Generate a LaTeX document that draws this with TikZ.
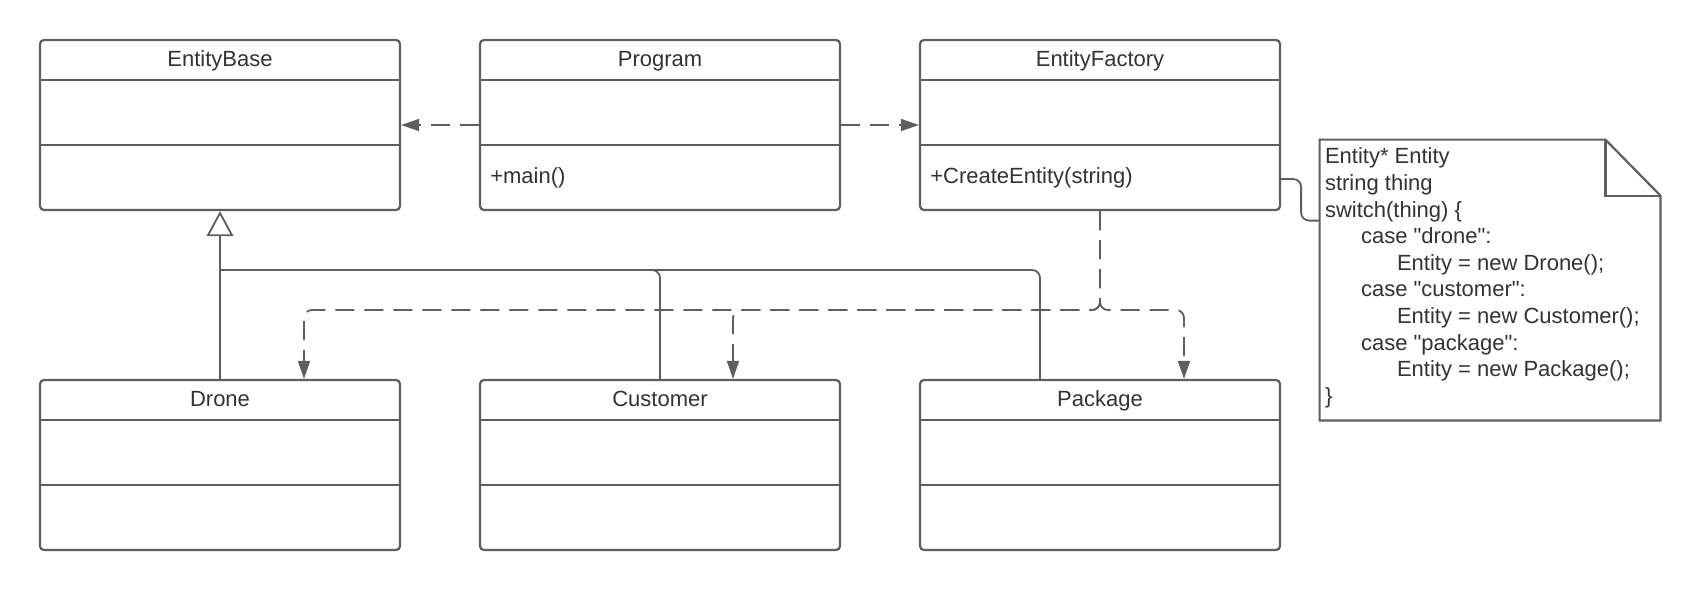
\documentclass[tikz,border=0pt]{standalone}
\usepackage{fontspec}
\setmainfont{Liberation Sans}[Ligatures=TeXOff]
\usetikzlibrary{arrows.meta,calc}
\definecolor{linec}{HTML}{5E5E5E}
\definecolor{txtc}{HTML}{333333}
\begin{document}
\begin{tikzpicture}[x=0.5pt,y=-0.5pt,
  classbox/.style={draw=linec, line width=1.1pt, rounded corners=2pt, minimum width=180pt, minimum height=85pt, inner sep=0pt, fill=white},
  txt/.style={text=txtc, font=\fontsize{11pt}{13.3pt}\selectfont, inner sep=0pt},
  title/.style={txt, anchor=base},
  member/.style={txt, anchor=base west},
  divider/.style={draw=linec, line width=1.1pt},
  conn/.style={draw=linec, line width=0.9pt},
  dep/.style={conn, dash pattern=on 9.5pt off 5pt, -{Triangle[length=9pt,width=6pt]}},
  inh/.style={conn, -{Triangle[open,fill=white,length=12.5pt,width=13.3pt]}},
  notebox/.style={draw=linec, line width=1.1pt, fill=white},
]
\useasboundingbox (0,0) rectangle (1700,591);

% class boxes
\node[classbox] (eb)    at (220,125) {};
\node[classbox] (prog)  at (660,125) {};
\node[classbox] (ef)    at (1100,125) {};
\node[classbox] (drone) at (220,465) {};
\node[classbox] (cust)  at (660,465) {};
\node[classbox] (pk)    at (1100,465) {};

\foreach \n in {eb,prog,ef,drone,cust,pk}{
  \draw[divider] ($(\n.north west)+(0,41)$) -- ($(\n.north east)+(0,41)$);
  \draw[divider] ($(\n.north west)+(0,106)$) -- ($(\n.north east)+(0,106)$);
}

% titles
\node[title] (ebt)  at ($(eb.north)+(0,28)$) {EntityBase};
\node[title] (prt)  at ($(prog.north)+(0,28)$) {Program};
\node[title] (eft)  at ($(ef.north)+(0,28)$) {EntityFactory};
\node[title] (drt)  at ($(drone.north)+(0,28)$) {Drone};
\node[title] (cut)  at ($(cust.north)+(0,28)$) {Customer};
\node[title] (pkt)  at ($(pk.north)+(0,28)$) {Package};

% members
\node[member] (pm) at ($(prog.north west)+(11,145)$) {+main()};
\node[member] (em) at ($(ef.north west)+(11,145)$) {+CreateEntity(string)};

% note
\node[minimum width=170pt, minimum height=140pt, inner sep=0pt] (note) at (1490,280) {};
\draw[notebox] (note.north west) -- ($(note.north east)+(-55,0)$) -- ($(note.north east)+(0,56)$) -- (note.south east) -- (note.south west) -- cycle;
\draw[notebox, fill=none] ($(note.north east)+(-55,0)$) -- ++(0,56) -- ++(55,0);
\node[txt, anchor=north west, align=left] (notetext) at ($(note.north west)+(5,8)$) {%
Entity* Entity\\
string thing\\
switch(thing) \{\\
\hspace*{18pt}case "drone":\\
\hspace*{36pt}Entity = new Drone();\\
\hspace*{18pt}case "customer":\\
\hspace*{36pt}Entity = new Customer();\\
\hspace*{18pt}case "package":\\
\hspace*{36pt}Entity = new Package();\\
\}};

% note connector
\coordinate (nc) at ($(ef.east)+(20,54)$);
\draw[conn, rounded corners=4pt] ($(ef.east)+(0,54)$) -- (nc) |- ($(note.north west)+(0,81)$);

% dependencies from Program
\draw[dep] (prog.west) -- (eb.east);
\draw[dep] (prog.east) -- (ef.west);

% dependencies from EntityFactory
\coordinate (dj) at (1100,310);
\draw[dep, rounded corners=4pt] (ef.south) -- (dj) -| ($(drone.north)+(84,0)$);
\draw[dep, rounded corners=4pt] (ef.south) -- (dj) -| ($(cust.north)+(73,0)$);
\draw[dep, rounded corners=4pt] (ef.south) -- (dj) -| ($(pk.north)+(84,0)$);

% inheritance
\coordinate (jn) at (220,270);
\draw[conn, rounded corners=4pt] (cust.north) |- (jn);
\draw[conn, rounded corners=4pt] ($(pk.north)+(-60,0)$) |- (jn);
\draw[inh] (drone.north) -- (eb.south);
\end{tikzpicture}
\end{document}
